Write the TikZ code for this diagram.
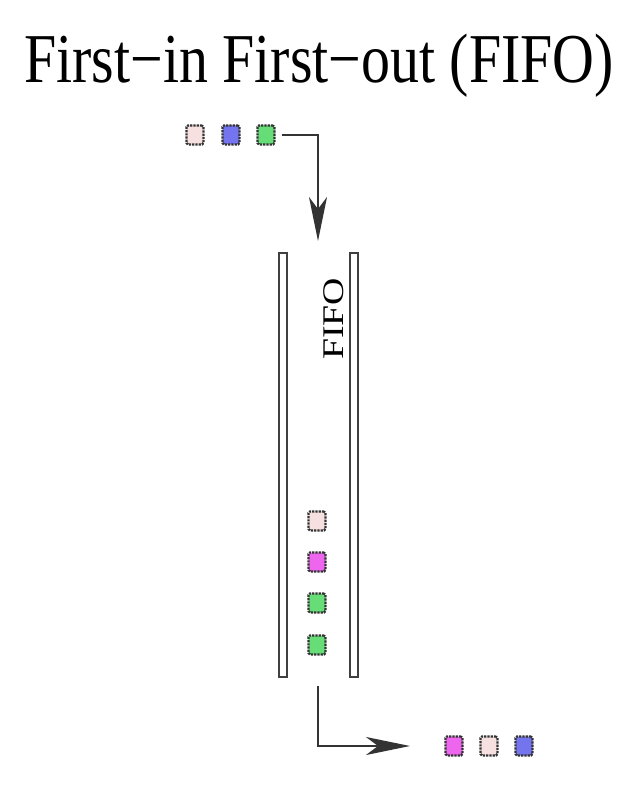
\documentclass[tikz,border=0pt]{standalone}
\usepackage{fontspec}
\setmainfont{Liberation Serif}
\usetikzlibrary{arrows.meta}
\definecolor{qpink}{HTML}{F6E0E0}
\definecolor{qblue}{HTML}{7474EE}
\definecolor{qgreen}{HTML}{66DD77}
\definecolor{qmag}{HTML}{EE66EE}
\tikzset{
  item/.style={draw=black!80, densely dotted, line width=2.2pt, rounded corners=1.5pt,
    minimum width=17pt, minimum height=19pt, inner sep=0pt},
  wall/.style={draw=black!75, fill=white, line width=1.4pt},
  flow/.style={draw=black!80, line width=2.4pt,
    -{Stealth[length=44pt, width=18pt, inset=12pt]}},
}
\begin{document}
\begin{tikzpicture}[x=1pt, y=-1pt]
\useasboundingbox (0,0) rectangle (636,786);
% title
\node (title) at (319,65.5) {\scalebox{0.827}[1]{\fontsize{70}{74}\selectfont First\textminus in First\textminus out (FIFO)}};
% incoming items
\node[item, fill=qpink]  (i1) at (195,135) {};
\node[item, fill=qblue]  (i2) at (231,135) {};
\node[item, fill=qgreen] (i3) at (266,135) {};
% pipe walls
\draw[wall] (279,253) rectangle (287,677);
\draw[wall] (350,253) rectangle (358,677);
\node[rotate=90, font=\fontsize{30}{32}\selectfont] (lbl) at (334,319) {\scalebox{1.26}[1]{FIFO}};
% queued items
\node[item, fill=qpink]  (q1) at (317,521) {};
\node[item, fill=qmag]   (q2) at (317,562) {};
\node[item, fill=qgreen] (q3) at (317,603) {};
\node[item, fill=qgreen] (q4) at (317,645) {};
% arrows in and out
\coordinate (inEnd) at (318,241);
\coordinate (outStart) at (318,686);
\coordinate (outEnd) at (410,746);
\draw[flow] (i3.east) ++(6pt,0) -| (inEnd);
\draw[flow] (outStart) |- (outEnd);
% outgoing items
\node[item, fill=qmag]  (o1) at (454,746) {};
\node[item, fill=qpink] (o2) at (489,746) {};
\node[item, fill=qblue] (o3) at (524,746) {};
\end{tikzpicture}
\end{document}
